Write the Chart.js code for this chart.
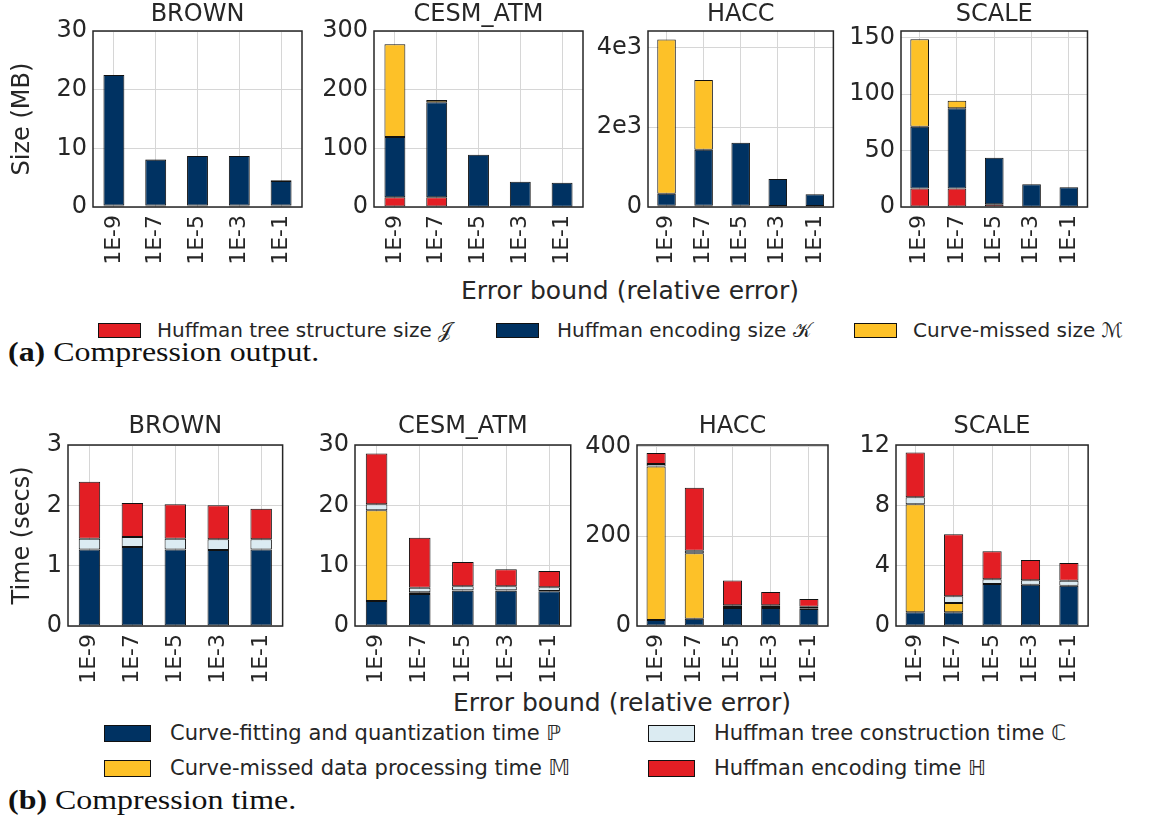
<!DOCTYPE html>
<html><head><meta charset="utf-8">
<script src="https://cdn.jsdelivr.net/npm/chart.js@4.4.1/dist/chart.umd.min.js"></script>
<style>
html,body{margin:0;padding:0;background:#fff;width:1160px;height:817px;overflow:hidden;position:relative;}
canvas{position:absolute;}
.txt{position:absolute;font-family:"DejaVu Sans";color:#262626;white-space:nowrap;}
.sw{position:absolute;border:1px solid #111;box-sizing:border-box;}
.cap{position:absolute;font-family:"Liberation Serif";color:#111;white-space:nowrap;transform-origin:0 50%;transform:scaleX(1.14);}
</style></head><body>
<div class="txt" style="left:0;width:1260px;text-align:center;top:276px;font-size:25px;line-height:30px;">Error bound (relative error)</div>
<div class="txt" style="left:0;width:1244px;text-align:center;top:688px;font-size:25px;line-height:30px;">Error bound (relative error)</div>

<div class="sw" style="left:98px;top:323px;width:43px;height:15px;background:#e31e24"></div>
<div class="txt" style="left:157px;top:318px;font-size:20px;line-height:24px;">Huffman tree structure size 𝒥</div>
<div class="sw" style="left:496px;top:323px;width:43px;height:15px;background:#003262"></div>
<div class="txt" style="left:557px;top:318px;font-size:20px;line-height:24px;">Huffman encoding size 𝒦</div>
<div class="sw" style="left:854px;top:323px;width:43px;height:15px;background:#fdc128"></div>
<div class="txt" style="left:913px;top:318px;font-size:20px;line-height:24px;">Curve-missed size ℳ</div>
<div class="cap" style="left:8px;top:337px;font-size:28px;line-height:30px;"><b>(a)</b> Compression output.</div>

<div class="sw" style="left:104px;top:725px;width:47px;height:17px;background:#003262"></div>
<div class="txt" style="left:170px;top:720px;font-size:21px;line-height:26px;">Curve-fitting and quantization time ℙ</div>
<div class="sw" style="left:648px;top:725px;width:47px;height:17px;background:#dbebf2"></div>
<div class="txt" style="left:714px;top:720px;font-size:21px;line-height:26px;">Huffman tree construction time ℂ</div>
<div class="sw" style="left:104px;top:760px;width:47px;height:17px;background:#fdc128"></div>
<div class="txt" style="left:170px;top:755px;font-size:21px;line-height:26px;">Curve-missed data processing time 𝕄</div>
<div class="sw" style="left:648px;top:760px;width:47px;height:17px;background:#e31e24"></div>
<div class="txt" style="left:714px;top:755px;font-size:21px;line-height:26px;">Huffman encoding time ℍ</div>
<div class="cap" style="left:8px;top:785px;font-size:28px;line-height:30px;"><b>(b)</b> Compression time.</div>

<script>
// ---------- DATA ----------
const errorBounds = ["1E-9", "1E-7", "1E-5", "1E-3", "1E-1"];
const fieldNames = ["BROWN", "CESM_ATM", "HACC", "SCALE"];

// (a) Compression output size (MB): J = Huffman tree structure, K = Huffman encoding, M = curve-missed
const brownSizeJ = [0.25, 0.25, 0.25, 0.25, 0.25];
const brownSizeK = [22.25, 7.8, 8.45, 8.45, 4.2];
const brownSizeM = [0, 0.1, 0, 0, 0.1];
const cesmSizeJ = [16.5, 16.5, 0.5, 0.3, 0.3];
const cesmSizeK = [102.8, 162, 88.7, 42.9, 41.2];
const cesmSizeM = [158, 4, 0, 0, 0];
const haccSizeJ = [30, 30, 30, 25, 25];
const haccSizeK = [303, 1403, 1578, 675, 292];
const haccSizeM = [3867, 1750, 0, 0, 0];
const scaleSizeJ = [16.5, 16.5, 2.4, 0.3, 0.3];
const scaleSizeK = [54.6, 71.1, 41.2, 19.8, 17.1];
const scaleSizeM = [77.6, 6.5, 0, 0, 0];

// (b) Compression time (secs): P = curve-fitting & quantization, M = curve-missed processing,
// C = Huffman tree construction, H = Huffman encoding
const brownTimeP = [1.27, 1.31, 1.27, 1.26, 1.27];
const brownTimeM = [0, 0, 0, 0, 0];
const brownTimeC = [0.177, 0.165, 0.177, 0.177, 0.167];
const brownTimeH = [0.943, 0.565, 0.573, 0.563, 0.507];
const cesmTimeP = [4.14, 5.3, 5.86, 5.86, 5.75];
const cesmTimeM = [15.03, 0.3, 0.05, 0.05, 0.05];
const cesmTimeC = [1.0, 0.75, 0.66, 0.66, 0.61];
const cesmTimeH = [8.43, 8.29, 4.03, 2.82, 2.71];
const haccTimeP = [13.4, 16.4, 40.1, 40.1, 37.9];
const haccTimeM = [342, 145.6, 2, 2, 1.5];
const haccTimeC = [5.2, 5.3, 4, 4, 3.7];
const haccTimeH = [24.5, 140.5, 55, 29.7, 17.1];
const scaleTimeP = [0.914, 0.914, 2.79, 2.74, 2.68];
const scaleTimeM = [7.19, 0.61, 0, 0, 0];
const scaleTimeC = [0.46, 0.46, 0.33, 0.31, 0.33];
const scaleTimeH = [2.99, 4.13, 1.85, 1.34, 1.18];

// axis ticks
const brownSizeTicks = [0, 10, 20, 30];
const brownSizeTickLabels = ["0", "10", "20", "30"];
const cesmSizeTicks = [0, 100, 200, 300];
const cesmSizeTickLabels = ["0", "100", "200", "300"];
const haccSizeTicks = [0, 2000, 4000];
const haccSizeTickLabels = ["0", "2e3", "4e3"];
const scaleSizeTicks = [0, 50, 100, 150];
const scaleSizeTickLabels = ["0", "50", "100", "150"];
const brownTimeTicks = [0, 1, 2, 3];
const brownTimeTickLabels = ["0", "1", "2", "3"];
const cesmTimeTicks = [0, 10, 20, 30];
const cesmTimeTickLabels = ["0", "10", "20", "30"];
const haccTimeTicks = [0, 200, 400];
const haccTimeTickLabels = ["0", "200", "400"];
const scaleTimeTicks = [0, 4, 8, 12];
const scaleTimeTickLabels = ["0", "4", "8", "12"];
const sizeAxisMax = [30, 300, 4410, 156];
const timeAxisMax = [3, 30, 403, 12.05];

// ---------- STYLE ----------
const RED = "#e31e24", NAVY = "#003262", GOLD = "#fdc128", LIGHT = "#dbebf2";
const TXT = "#262626", GRID = "#d6d6d6";

const framePlugin = {
  id: "frame",
  afterDatasetsDraw(chart) {
    const { ctx, chartArea: a } = chart;
    ctx.save();
    ctx.strokeStyle = "#262626";
    ctx.lineWidth = 1.5;
    ctx.strokeRect(a.left, a.top, a.right - a.left, a.bottom - a.top);
    ctx.restore();
  }
};

function ds(label, data, color) {
  return { label, data, backgroundColor: color, borderColor: "#111111", borderWidth: 1,
           borderSkipped: false, categoryPercentage: 1.0, barPercentage: 0.5 };
}

function makeChart(p) {
  const c = document.createElement("canvas");
  const cl = p.first ? 0 : p.l - 70;
  const yW = p.l - cl;
  const W = p.r - cl + 8;
  const H = p.titleSpace + (p.b - p.t) + 66;
  c.width = W; c.height = H;
  c.style.left = cl + "px"; c.style.top = (p.t - p.titleSpace) + "px";
  c.style.width = W + "px"; c.style.height = H + "px";
  document.body.appendChild(c);
  new Chart(c, {
    type: "bar",
    data: { labels: errorBounds, datasets: p.datasets },
    options: {
      responsive: false, animation: false, devicePixelRatio: 1,
      layout: { padding: { left: 0, right: 8, top: 0, bottom: 0 } },
      plugins: {
        legend: { display: false }, tooltip: { enabled: false },
        title: { display: true, fullSize: false, text: p.title, color: TXT,
                 font: { family: "DejaVu Sans", size: 24, lineHeight: 1, weight: "normal" },
                 padding: { top: p.tp, bottom: p.titleSpace - 24 - p.tp } }
      },
      scales: {
        x: {
          stacked: true,
          grid: { offset: false, color: GRID, lineWidth: 1, drawTicks: false },
          border: { display: false },
          ticks: { minRotation: 90, maxRotation: 90, autoSkip: false, padding: 8, color: TXT,
                   font: { family: "DejaVu Sans", size: 22 } },
          afterFit: s => { s.height = 66; }
        },
        y: {
          stacked: true, min: 0, max: p.max,
          grid: { color: GRID, lineWidth: 1, drawTicks: false },
          border: { display: false },
          afterBuildTicks: s => { s.ticks = p.ticks.map(v => ({ value: v })); },
          ticks: { padding: 6, color: TXT, font: { family: "DejaVu Sans", size: 24 },
                   callback: (v, i) => p.tickLabels[i] },
          title: { display: !!p.ylabel, text: p.ylabel || "", color: TXT,
                   font: { family: "DejaVu Sans", size: 24 }, padding: { top: 8, bottom: 0 } },
          afterFit: s => { s.width = yW; }
        }
      }
    },
    plugins: [framePlugin]
  });
}

const sizeSets = [
  [brownSizeJ, brownSizeK, brownSizeM, brownSizeTicks, brownSizeTickLabels],
  [cesmSizeJ, cesmSizeK, cesmSizeM, cesmSizeTicks, cesmSizeTickLabels],
  [haccSizeJ, haccSizeK, haccSizeM, haccSizeTicks, haccSizeTickLabels],
  [scaleSizeJ, scaleSizeK, scaleSizeM, scaleSizeTicks, scaleSizeTickLabels]
];
const timeSets = [
  [brownTimeP, brownTimeM, brownTimeC, brownTimeH, brownTimeTicks, brownTimeTickLabels],
  [cesmTimeP, cesmTimeM, cesmTimeC, cesmTimeH, cesmTimeTicks, cesmTimeTickLabels],
  [haccTimeP, haccTimeM, haccTimeC, haccTimeH, haccTimeTicks, haccTimeTickLabels],
  [scaleTimeP, scaleTimeM, scaleTimeC, scaleTimeH, scaleTimeTicks, scaleTimeTickLabels]
];
const topBoxes = [[93, 309], [374, 590], [648, 843], [901, 1097]];
const botBoxes = [[68, 289], [355, 577], [637, 837], [896, 1097]];

sizeSets.forEach((s, i) => makeChart({
  title: fieldNames[i], first: i === 0, ylabel: i === 0 ? "Size (MB)" : null,
  l: topBoxes[i][0], r: topBoxes[i][1], t: 31, b: 207, titleSpace: 31, tp: 3,
  max: sizeAxisMax[i], ticks: s[3], tickLabels: s[4],
  datasets: [ds("Huffman tree structure size", s[0], RED),
             ds("Huffman encoding size", s[1], NAVY),
             ds("Curve-missed size", s[2], GOLD)]
}));
timeSets.forEach((s, i) => makeChart({
  title: fieldNames[i], first: i === 0, ylabel: i === 0 ? "Time (secs)" : null,
  l: botBoxes[i][0], r: botBoxes[i][1], t: 445, b: 626, titleSpace: 34, tp: 4,
  max: timeAxisMax[i], ticks: s[4], tickLabels: s[5],
  datasets: [ds("Curve-fitting and quantization time", s[0], NAVY),
             ds("Curve-missed data processing time", s[1], GOLD),
             ds("Huffman tree construction time", s[2], LIGHT),
             ds("Huffman encoding time", s[3], RED)]
}));
</script>
</body></html>
